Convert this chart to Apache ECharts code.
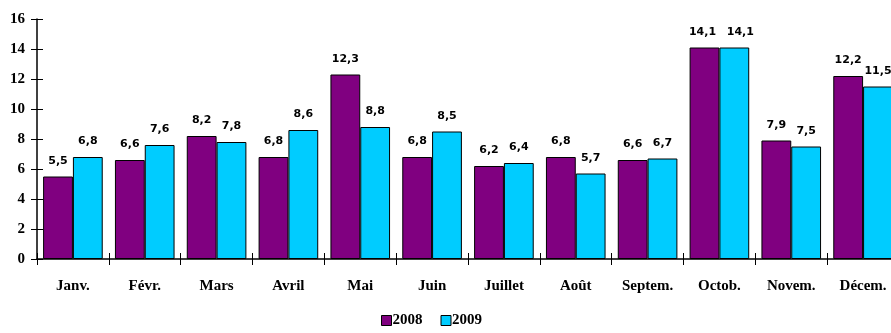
<!DOCTYPE html>
<html>
<head>
<meta charset="utf-8">
<script src="https://cdn.jsdelivr.net/npm/echarts@6/dist/echarts.min.js"></script>
<style>
  html, body { margin: 0; padding: 0; background: #fff; }
  #chart { width: 891px; height: 333px; }
</style>
</head>
<body>
<div id="chart"></div>
<script>
// Monthly values, 2008 vs 2009
const months = ['Janv.', 'Févr.', 'Mars', 'Avril', 'Mai', 'Juin', 'Juillet', 'Août', 'Septem.', 'Octob.', 'Novem.', 'Décem.'];
const values2008 = [5.5, 6.6, 8.2, 6.8, 12.3, 6.8, 6.2, 6.8, 6.6, 14.1, 7.9, 12.2];
const values2009 = [6.8, 7.6, 7.8, 8.6, 8.8, 8.5, 6.4, 5.7, 6.7, 14.1, 7.5, 11.5];
const seriesNames = ['2008', '2009'];

const serif = '"Liberation Serif", "Times New Roman", serif';
const sans = '"DejaVu Sans", "Liberation Sans", Arial, sans-serif';

// equal-height neighbours: push their value labels apart a little
const labelNudge = { 'Octob.': [-2, 6] };

const chart = echarts.init(document.getElementById('chart'));

function barSeries(seriesIdx, name, data, color) {
  return {
    name: name,
    type: 'bar',
    data: data.map((v, i) => {
      const nudge = labelNudge[months[i]];
      return nudge ? { value: v, label: { offset: [nudge[seriesIdx], 0] } } : v;
    }),
    barGap: '0%',
    barCategoryGap: '17%',
    itemStyle: { color: color, borderColor: '#000', borderWidth: 1 },
    label: {
      show: true,
      position: 'top',
      distance: 10,
      fontFamily: sans,
      fontWeight: 'bold',
      fontSize: 11,
      color: '#000',
      formatter: p => String(p.value).replace('.', ',')
    }
  };
}

const tickStyle = { color: '#000', width: 1 };

chart.setOption({
  animation: false,
  // the plot runs slightly past the right edge of the canvas
  grid: { left: 37, top: 19, bottom: 74, right: -8, containLabel: false, outerBoundsMode: 'none' },
  legend: {
    bottom: 0,
    left: 376,
    itemWidth: 10,
    itemHeight: 10,
    itemGap: 18,
    icon: 'rect',
    textStyle: { fontFamily: serif, fontWeight: 'bold', fontSize: 15, color: '#000', padding: [0, 0, 0, -4] },
    itemStyle: { borderColor: '#000', borderWidth: 1 },
    data: seriesNames
  },
  xAxis: [
    {
      type: 'category',
      data: months,
      axisLine: { lineStyle: { color: '#000', width: 1.5 } },
      axisTick: { show: true, length: 6, lineStyle: tickStyle },
      axisLabel: {
        fontFamily: serif, fontWeight: 'bold', fontSize: 15, color: '#000', margin: 20
      }
    },
    {
      type: 'category',
      data: months,
      position: 'bottom',
      axisLine: { show: false },
      axisTick: { show: true, inside: true, length: 6, lineStyle: tickStyle },
      axisLabel: { show: false }
    }
  ],
  yAxis: [
    {
      type: 'value',
      min: 0,
      max: 16,
      interval: 2,
      axisLine: { show: true, lineStyle: { color: '#000', width: 1.5 } },
      axisTick: { show: true, length: 6, lineStyle: tickStyle },
      splitLine: { show: false },
      axisLabel: { fontFamily: serif, fontWeight: 'bold', fontSize: 15, color: '#000', margin: 12 }
    },
    {
      type: 'value',
      position: 'left',
      min: 0,
      max: 16,
      interval: 2,
      axisLine: { show: false },
      axisTick: { show: true, inside: true, length: 6, lineStyle: tickStyle },
      splitLine: { show: false },
      axisLabel: { show: false }
    }
  ],
  series: [
    barSeries(0, seriesNames[0], values2008, '#800080'),
    barSeries(1, seriesNames[1], values2009, '#00CCFF')
  ]
});
</script>
</body>
</html>
